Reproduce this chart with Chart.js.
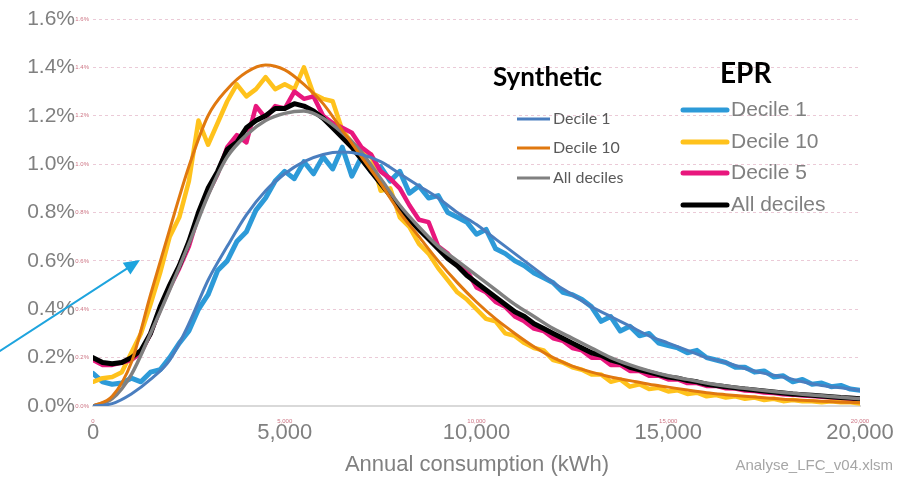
<!DOCTYPE html>
<html lang="en">
<head>
  <meta charset="UTF-8" />
  <title>Annual consumption distribution</title>
  <script src="https://cdn.jsdelivr.net/npm/chart.js"></script>
  <style>
    html, body { margin: 0; padding: 0; background: #fff; }
    .chart-box { position: relative; width: 898px; height: 479px; }
  </style>
</head>
<body>
  <div class="chart-box"><canvas id="consumptionChart"></canvas></div>

  <script>
    // x positions (kWh)
    const eprKwh = [0,250,500,750,1000,1250,1500,1750,2000,2250,2500,2750,3000,3250,3500,3750,4000,4250,4500,4750,
      5000,5250,5500,5750,6000,6250,6500,6750,7000,7250,7500,7750,8000,8250,8500,8750,9000,9250,9500,9750,
      10000,10250,10500,10750,11000,11250,11500,11750,12000,12250,12500,12750,13000,13250,13500,13750,14000,14250,14500,14750,
      15000,15250,15500,15750,16000,16250,16500,16750,17000,17250,17500,17750,18000,18250,18500,18750,19000,19250,19500,19750,20000];
    const synthKwh = [0,500,1000,1500,2000,2500,3000,3500,4000,4500,5000,5500,6000,6500,7000,7500,8000,8500,9000,9500,
      10000,10500,11000,11500,12000,12500,13000,13500,14000,14500,15000,15500,16000,16500,17000,17500,18000,18500,19000,19500,20000];

    // EPR (measured) shares, %
    const eprDecile1 = [0.135,0.10,0.09,0.095,0.115,0.10,0.14,0.15,0.20,0.26,
      0.31,0.40,0.46,0.56,0.60,0.68,0.72,0.81,0.86,0.93,
      0.97,0.94,1.01,0.96,1.03,0.98,1.07,0.95,1.03,0.97,
      0.99,0.93,0.97,0.88,0.91,0.86,0.87,0.80,0.78,0.76,
      0.71,0.73,0.65,0.63,0.60,0.58,0.55,0.53,0.51,0.47,
      0.46,0.44,0.41,0.35,0.37,0.31,0.33,0.29,0.30,0.26,
      0.25,0.24,0.22,0.23,0.20,0.19,0.18,0.16,0.16,0.14,
      0.145,0.12,0.125,0.10,0.11,0.09,0.095,0.08,0.085,0.07,
      0.065];
    const eprDecile10 = [0.10,0.115,0.12,0.14,0.22,0.30,0.42,0.55,0.70,0.78,
      0.93,1.18,1.08,1.17,1.26,1.33,1.28,1.31,1.36,1.31,
      1.33,1.31,1.40,1.29,1.27,1.26,1.14,1.09,1.05,1.04,
      0.89,0.90,0.78,0.74,0.67,0.63,0.57,0.52,0.47,0.44,
      0.40,0.36,0.35,0.30,0.29,0.26,0.24,0.23,0.19,0.18,
      0.16,0.15,0.13,0.13,0.10,0.11,0.08,0.09,0.07,0.075,
      0.06,0.065,0.05,0.055,0.04,0.045,0.035,0.04,0.03,0.035,
      0.025,0.03,0.02,0.025,0.02,0.02,0.015,0.02,0.015,0.015,
      0.01];
    const eprDecile5 = [0.19,0.17,0.17,0.18,0.19,0.22,0.30,0.40,0.49,0.57,
      0.66,0.79,0.88,0.96,1.07,1.12,1.09,1.24,1.19,1.24,
      1.23,1.30,1.27,1.28,1.20,1.17,1.15,1.13,1.07,1.04,
      0.97,0.94,0.90,0.83,0.77,0.76,0.66,0.63,0.58,0.56,
      0.49,0.47,0.43,0.41,0.37,0.35,0.32,0.31,0.28,0.27,
      0.24,0.23,0.20,0.20,0.17,0.17,0.145,0.145,0.125,0.125,
      0.11,0.11,0.095,0.095,0.083,0.083,0.073,0.072,0.064,0.062,
      0.056,0.054,0.049,0.047,0.043,0.041,0.038,0.036,0.033,0.031,
      0.028];
    const eprAll = [0.20,0.18,0.175,0.18,0.20,0.23,0.30,0.41,0.50,0.58,
      0.68,0.80,0.90,0.97,1.06,1.09,1.15,1.18,1.20,1.23,
      1.23,1.25,1.24,1.22,1.19,1.15,1.11,1.07,1.02,0.97,
      0.92,0.87,0.82,0.77,0.73,0.69,0.65,0.61,0.58,0.54,
      0.51,0.48,0.45,0.42,0.39,0.37,0.34,0.32,0.30,0.28,
      0.26,0.24,0.22,0.21,0.19,0.18,0.16,0.15,0.14,0.13,
      0.12,0.115,0.105,0.10,0.09,0.085,0.08,0.075,0.07,0.066,
      0.062,0.058,0.054,0.05,0.047,0.044,0.041,0.038,0.035,0.033,
      0.03];

    // Synthetic (fitted) shares, %
    const synthDecile1 = [0,0.01,0.05,0.11,0.19,0.34,0.52,0.66,0.79,0.89,
      0.96,1.01,1.04,1.05,1.04,1.01,0.96,0.91,0.86,0.80,
      0.75,0.69,0.63,0.57,0.51,0.46,0.41,0.37,0.33,0.29,
      0.26,0.23,0.20,0.18,0.155,0.135,0.12,0.10,0.085,0.075,
      0.065];
    const synthDecile10 = [0,0.04,0.18,0.46,0.73,0.99,1.20,1.31,1.38,1.41,
      1.39,1.33,1.25,1.14,1.03,0.92,0.80,0.70,0.60,0.51,
      0.43,0.36,0.30,0.245,0.20,0.165,0.14,0.12,0.105,0.09,
      0.078,0.066,0.055,0.047,0.04,0.034,0.028,0.024,0.02,0.016,
      0.013];
    const synthAll = [0,0.03,0.13,0.30,0.48,0.67,0.87,1.03,1.12,1.18,
      1.21,1.22,1.19,1.13,1.05,0.94,0.83,0.74,0.66,0.60,
      0.54,0.48,0.42,0.37,0.32,0.28,0.24,0.20,0.17,0.145,
      0.125,0.11,0.095,0.083,0.073,0.064,0.056,0.049,0.042,0.036,
      0.03];

    const xTitle = 'Annual consumption (kWh)';
    const sourceNote = 'Analyse_LFC_v04.xlsm';

    const toPoints = (xs, ys) => xs.map((x, i) => ({ x: x, y: ys[i] }));
    const arial = "'Liberation Sans', Arial, sans-serif";

    function eprSet(label, ys, color, width, order) {
      return { label, group: 'EPR', data: toPoints(eprKwh, ys), borderColor: color, borderWidth: width,
        pointRadius: 0, tension: 0, borderJoinStyle: 'round', borderCapStyle: 'round', order };
    }
    function synthSet(label, ys, color, width) {
      return { label, group: 'Synthetic', data: toPoints(synthKwh, ys), borderColor: color, borderWidth: width,
        pointRadius: 0, cubicInterpolationMode: 'monotone', order: 0 };
    }

    const datasets = [
      synthSet('Decile 1', synthDecile1, '#4a7ebf', 3),
      synthSet('Decile 10', synthDecile10, '#e0780f', 3),
      synthSet('All deciles', synthAll, '#808080', 3.5),
      eprSet('Decile 1', eprDecile1, '#2d9ad8', 5, 4),
      eprSet('Decile 10', eprDecile10, '#ffc21c', 4.5, 3),
      eprSet('Decile 5', eprDecile5, '#e8177d', 4.5, 2),
      eprSet('All deciles', eprAll, '#000000', 5, 1)
    ];

    // legends, arrow, axis title and note
    const overlay = {
      id: 'overlay',
      afterDraw(chart) {
        const ctx = chart.ctx;
        const ds = chart.data.datasets;
        ctx.save();

        // tiny echo labels of the source sheet
        ctx.fillStyle = 'rgba(192,80,100,0.8)';
        ctx.font = '6px ' + arial;
        ctx.textBaseline = 'middle';
        ctx.textAlign = 'right';
        chart.scales.y.ticks.forEach(t => {
          ctx.fillText(t.value.toFixed(1) + '%', 89, chart.scales.y.getPixelForValue(t.value));
        });
        ctx.textAlign = 'center';
        chart.scales.x.ticks.forEach(t => {
          ctx.fillText(t.value.toLocaleString('en-US'), chart.scales.x.getPixelForValue(t.value), 421);
        });

        // Synthetic legend
        ctx.textAlign = 'left';
        ctx.textBaseline = 'alphabetic';
        ctx.fillStyle = '#000';
        ctx.font = 'bold 26px Lato, sans-serif';
        ctx.fillText('Synthetic', 493, 86);
        const synth = ds.filter(d => d.group === 'Synthetic');
        const synthY = [119, 148, 178];
        ctx.font = '16px Lato, sans-serif';
        ctx.textBaseline = 'middle';
        synth.forEach((d, i) => {
          ctx.strokeStyle = d.borderColor;
          ctx.lineWidth = 3;
          ctx.beginPath(); ctx.moveTo(517, synthY[i]); ctx.lineTo(550, synthY[i]); ctx.stroke();
          ctx.fillStyle = '#595959';
          ctx.fillText(d.label, 553, synthY[i]);
        });

        // EPR legend
        ctx.textBaseline = 'alphabetic';
        ctx.fillStyle = '#000';
        ctx.font = 'bold 28px Lato, sans-serif';
        ctx.fillText('EPR', 720, 83);
        const epr = ds.filter(d => d.group === 'EPR');
        const eprOrder = ['Decile 1', 'Decile 10', 'Decile 5', 'All deciles'];
        const eprY = [110, 142, 173, 205];
        ctx.font = '21px ' + arial;
        ctx.textBaseline = 'middle';
        eprOrder.forEach((name, i) => {
          const d = epr.find(e => e.label === name);
          ctx.strokeStyle = d.borderColor;
          ctx.lineWidth = 5;
          ctx.lineCap = 'round';
          ctx.beginPath(); ctx.moveTo(683, eprY[i]); ctx.lineTo(727, eprY[i]); ctx.stroke();
          ctx.fillStyle = '#808080';
          ctx.fillText(name, 731, eprY[i]);
        });

        // axis title and file note
        ctx.fillStyle = '#808080';
        ctx.textAlign = 'center';
        ctx.font = '22px ' + arial;
        ctx.fillText(xTitle, 477, 465);
        ctx.textAlign = 'right';
        ctx.fillStyle = '#a6a6a6';
        ctx.font = '15px ' + arial;
        ctx.fillText(sourceNote, 893, 466);

        // pointer arrow
        const x0 = 0, y0 = 351, x1 = 140, y1 = 260;
        const ang = Math.atan2(y1 - y0, x1 - x0);
        ctx.strokeStyle = '#1ea4de';
        ctx.fillStyle = '#1ea4de';
        ctx.lineWidth = 2;
        ctx.beginPath();
        ctx.moveTo(x0, y0);
        ctx.lineTo(x1 - 12 * Math.cos(ang), y1 - 12 * Math.sin(ang));
        ctx.stroke();
        ctx.beginPath();
        ctx.moveTo(x1, y1);
        ctx.lineTo(x1 - 16 * Math.cos(ang) + 7 * Math.sin(ang), y1 - 16 * Math.sin(ang) - 7 * Math.cos(ang));
        ctx.lineTo(x1 - 16 * Math.cos(ang) - 7 * Math.sin(ang), y1 - 16 * Math.sin(ang) + 7 * Math.cos(ang));
        ctx.closePath();
        ctx.fill();

        ctx.restore();
      }
    };

    new Chart(document.getElementById('consumptionChart'), {
      type: 'line',
      data: { datasets },
      options: {
        responsive: true,
        maintainAspectRatio: false,
        animation: false,
        layout: { padding: { left: 0, right: 38, top: 19, bottom: 0 } },
        plugins: { legend: { display: false }, tooltip: { enabled: false } },
        scales: {
          x: {
            type: 'linear',
            min: 0,
            max: 20000,
            afterFit(scale) {
              scale.height = 73;
              scale.paddingLeft = 0;
              scale.paddingRight = 0;
            },
            ticks: {
              stepSize: 5000,
              padding: 14,
              maxRotation: 0,
              color: '#808080',
              font: { family: arial, size: 22 },
              callback: v => v.toLocaleString('en-US')
            },
            grid: { display: false, drawTicks: false },
            border: { display: true, color: '#d9d9d9', width: 2 }
          },
          y: {
            min: 0,
            max: 1.6,
            afterFit(scale) {
              scale.width = 93;
              scale.paddingTop = 0;
              scale.paddingBottom = 0;
            },
            ticks: {
              stepSize: 0.2,
              padding: 18,
              color: '#808080',
              font: { family: arial, size: 21 },
              callback: v => v.toFixed(1) + '%'
            },
            grid: {
              drawTicks: false,
              lineWidth: 1,
              color: c => (c.tick && c.tick.value === 0) ? 'rgba(0,0,0,0)' : 'rgba(215,150,175,0.5)'
            },
            border: { display: false, dash: [3, 3] }
          }
        }
      },
      plugins: [overlay]
    });
  </script>
</body>
</html>
